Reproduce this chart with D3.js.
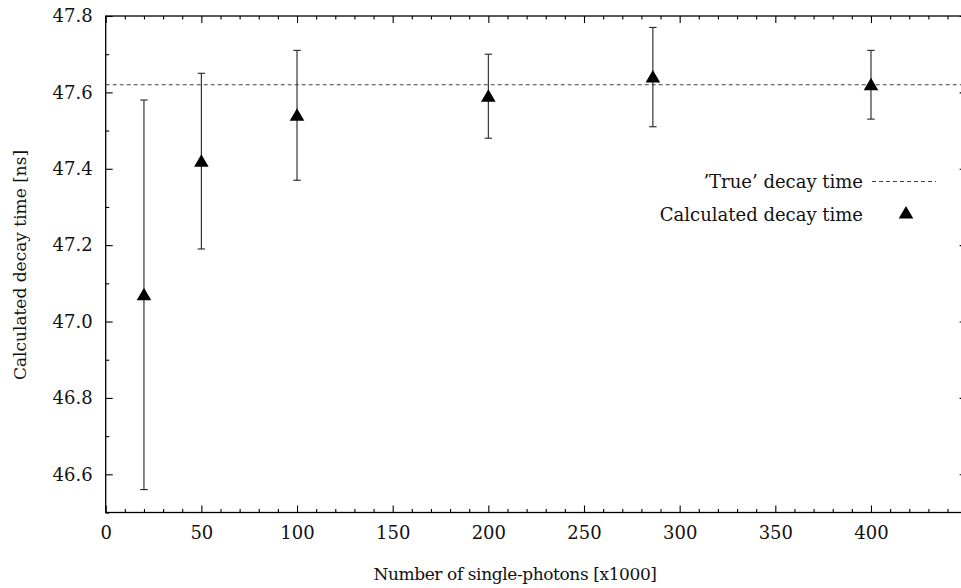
<!DOCTYPE html>
<html><head><meta charset="utf-8">
<script src="https://cdn.jsdelivr.net/npm/d3@7"></script>
<style>body{margin:0;background:#fff}svg{display:block}</style>
</head><body><svg id="c" width="961" height="588"></svg>
<script>
const xValues = [20, 50, 100, 200, 286, 400];
const yValues = [47.07, 47.42, 47.54, 47.59, 47.64, 47.62];
const yLow = [46.56, 47.19, 47.37, 47.48, 47.51, 47.53];
const yHigh = [47.58, 47.65, 47.71, 47.70, 47.77, 47.71];
const trueValue = 47.62;
const xTicks = [0, 50, 100, 150, 200, 250, 300, 350, 400];
const yTicks = [46.6, 46.8, 47.0, 47.2, 47.4, 47.6, 47.8];
const legendLabels = ["\u2019True\u2019 decay time", "Calculated decay time"];
const xTitle = "Number of single-photons [x1000]";
const yTitle = "Calculated decay time [ns]";

const FONT = '"DejaVu Serif", serif';
const svg = d3.select("#c");
const L = 105.7, T = 16, B = 512.5;
const x = d3.scaleLinear().domain([0, 450]).range([L, L + 450 * 1.9132]);
const y = d3.scaleLinear().domain([46.5, 47.8]).range([B, T]);
const R = x(450);
const fs = 18;

const minorX = d3.range(0, 451, 10);
const minorY = d3.range(46.5, 47.81, 0.1);

const g = svg.append("g");
g.append("rect").attr("x", L).attr("y", T).attr("width", R - L).attr("height", B - T)
  .attr("fill", "none").attr("stroke", "#000").attr("stroke-width", 1.3);

const axB = d3.axisBottom(x).tickValues(xTicks).tickSize(-7).tickPadding(14).tickFormat(d3.format("d"));
g.append("g").attr("transform", `translate(0,${B})`).call(axB);
g.append("g").attr("transform", `translate(0,${T})`).call(d3.axisTop(x).tickValues(xTicks).tickSize(-7).tickFormat(""));
const minorXv = minorX.filter(v => v % 50 !== 0);
g.append("g").attr("transform", `translate(0,${B})`).call(d3.axisBottom(x).tickValues(minorXv).tickSize(-3.5).tickFormat(""));
g.append("g").attr("transform", `translate(0,${T})`).call(d3.axisTop(x).tickValues(minorXv).tickSize(-3.5).tickFormat(""));

const axL = d3.axisLeft(y).tickValues(yTicks).tickSize(-7).tickPadding(13).tickFormat(d3.format(".1f"));
g.append("g").attr("transform", `translate(${L},0)`).call(axL);
g.append("g").attr("transform", `translate(${R},0)`).call(d3.axisRight(y).tickValues(yTicks).tickSize(-7).tickFormat(""));
const minorYv = minorY.filter(v => Math.abs(Math.round(v * 10) % 2) === 1);
g.append("g").attr("transform", `translate(${L},0)`).call(d3.axisLeft(y).tickValues(minorYv).tickSize(-3.5).tickFormat(""));
g.append("g").attr("transform", `translate(${R},0)`).call(d3.axisRight(y).tickValues(minorYv).tickSize(-3.5).tickFormat(""));

g.selectAll(".domain").remove();
g.selectAll(".tick line").attr("stroke", "#000").attr("stroke-width", 1.1);
g.selectAll("g").attr("font-family", FONT);
g.selectAll(".tick text").attr("font-family", FONT).attr("font-size", fs).attr("fill", "#111");

g.append("line").attr("x1", L).attr("x2", R).attr("y1", y(trueValue)).attr("y2", y(trueValue))
  .attr("stroke", "#444").attr("stroke-width", 1).attr("stroke-dasharray", "4,3");

const data = xValues.map((v, i) => ({x: v, y: yValues[i], lo: yLow[i], hi: yHigh[i]}));
const eb = g.append("g").attr("stroke", "#222").attr("stroke-width", 1.1);
data.forEach(d => {
  eb.append("line").attr("x1", x(d.x)).attr("x2", x(d.x)).attr("y1", y(d.lo)).attr("y2", y(d.hi));
  eb.append("line").attr("x1", x(d.x) - 3.7).attr("x2", x(d.x) + 3.7).attr("y1", y(d.lo)).attr("y2", y(d.lo));
  eb.append("line").attr("x1", x(d.x) - 3.7).attr("x2", x(d.x) + 3.7).attr("y1", y(d.hi)).attr("y2", y(d.hi));
});
const tri = (cx, cy) => `M${cx},${cy - 7}L${cx + 7.3},${cy + 5.5}L${cx - 7.3},${cy + 5.5}Z`;
g.selectAll(".pt").data(data).enter().append("path").attr("d", d => tri(x(d.x), y(d.y))).attr("fill", "#000");

const lx = 863;
g.append("text").attr("x", lx).attr("y", 188).attr("text-anchor", "end").attr("font-family", FONT).attr("font-size", fs).attr("fill", "#111").text(legendLabels[0]);
g.append("line").attr("x1", 872).attr("x2", 936).attr("y1", 181.5).attr("y2", 181.5)
  .attr("stroke", "#444").attr("stroke-dasharray", "4,3");
g.append("text").attr("x", lx).attr("y", 221).attr("text-anchor", "end").attr("font-family", FONT).attr("font-size", fs).attr("fill", "#111").text(legendLabels[1]);
g.append("path").attr("d", tri(906, 213)).attr("fill", "#000");

svg.append("text").attr("x", 515).attr("y", 580).attr("text-anchor", "middle").attr("font-family", FONT).attr("font-size", 17).attr("letter-spacing", "-0.4").attr("fill", "#111").text(xTitle);
svg.append("text").attr("transform", "translate(26,265) rotate(-90)").attr("text-anchor", "middle").attr("font-family", FONT).attr("font-size", 17).attr("fill", "#111").text(yTitle);
</script></body></html>
